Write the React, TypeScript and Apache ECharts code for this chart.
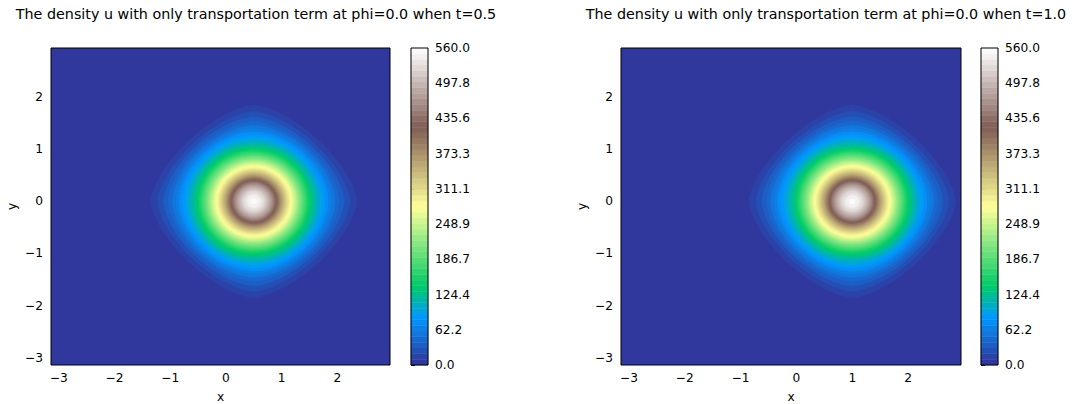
import React, { useEffect, useRef } from "react";
import * as echarts from "echarts";

// ---- data ----
const plotTitles = [
  "The density u with only transportation term at phi=0.0 when t=0.5",
  "The density u with only transportation term at phi=0.0 when t=1.0",
];
const centerX = [0.5, 1.0];
const centerY = [0, 0];
const xTicks = [-3, -2, -1, 0, 1, 2];
const yTicks = [-3, -2, -1, 0, 1, 2];
const cbTicks = [0, 62.22, 124.44, 186.67, 248.89, 311.11, 373.33, 435.56, 497.78, 560];
const levels = [
  0, 10, 20, 30, 40, 50, 60, 70, 80, 90, 100, 110, 120, 130, 140, 150, 160, 170, 180, 190,
  200, 210, 220, 230, 240, 250, 260, 270, 280, 290, 300, 310, 320, 330, 340, 350, 360, 370,
  380, 390, 400, 410, 420, 430, 440, 450, 460, 470, 480, 490, 500, 510, 520, 530, 540, 550, 560,
];
// radial profile of u around the centre (radius in data units -> value)
const profileR = [0, 0.1, 0.2, 0.3, 0.4, 0.5, 0.6, 0.7, 0.8, 0.9, 1.0, 1.1, 1.2, 1.3, 1.4, 1.5, 1.6, 1.7, 1.8, 1.9];
const profileU = [556, 545, 518, 476, 420, 360, 308, 264, 220, 178, 140, 115, 94, 76, 59, 44, 32, 22, 14, 6];
// contour shape exponent (2 = circle, lower = diamond-like)
const profileP = [2, 2, 2, 2, 2, 2, 2, 2, 2, 2, 2, 1.95, 1.9, 1.82, 1.75, 1.68, 1.6, 1.55, 1.5, 1.5];

const X_MIN = -Math.PI;
const X_MAX = Math.PI - (2 * Math.PI) / 32;
const VMAX = 560;

// terrain colormap anchors
const cmapPos = [0, 0.15, 0.25, 0.5, 0.75, 1];
const cmapRGB = [
  [0.2, 0.2, 0.6],
  [0.0, 0.6, 1.0],
  [0.0, 0.8, 0.4],
  [1.0, 1.0, 0.6],
  [0.5, 0.36, 0.33],
  [1.0, 1.0, 1.0],
];

function terrain(t: number): string {
  const idx = Math.max(0, Math.min(255, Math.floor(t * 256)));
  const x = idx / 255;
  let j = 0;
  while (j < cmapPos.length - 2 && x > cmapPos[j + 1]) j++;
  const f = (x - cmapPos[j]) / (cmapPos[j + 1] - cmapPos[j]);
  const c = cmapRGB[j].map((v, k) => Math.round((v + (cmapRGB[j + 1][k] - v) * f) * 255));
  return `rgb(${c[0]},${c[1]},${c[2]})`;
}

function radiusAt(level: number): number {
  for (let j = 0; j < profileU.length - 1; j++) {
    if (profileU[j] >= level && level > profileU[j + 1]) {
      const f = (profileU[j] - level) / (profileU[j] - profileU[j + 1]);
      return profileR[j] + f * (profileR[j + 1] - profileR[j]);
    }
  }
  return 0;
}
function shapeAt(r: number): number {
  for (let j = 0; j < profileR.length - 1; j++) {
    if (r >= profileR[j] && r <= profileR[j + 1]) {
      const f = (r - profileR[j]) / (profileR[j + 1] - profileR[j]);
      return profileP[j] + f * (profileP[j + 1] - profileP[j]);
    }
  }
  return 2;
}

const FONT = "DejaVu Sans";
const TICK_FS = 12.2;
const TITLE_FS = 14.3;
const mainGrids = [
  { left: 51, top: 48, width: 339, height: 317 },
  { left: 621, top: 48, width: 340, height: 317 },
];
const cbGrids = [
  { left: 411, top: 48, width: 17, height: 317 },
  { left: 981, top: 48, width: 17, height: 317 },
];
const titleCenters = [256, 826];

const fmtMinus = (v: number) => (v < 0 ? "\u2212" + Math.abs(v) : String(v));

export default function App() {
  const ref = useRef<HTMLDivElement>(null);
  useEffect(() => {
    if (!ref.current) return;
    const chart = echarts.init(ref.current, undefined, { renderer: "svg" });
    const grids: any[] = [];
    const xAxes: any[] = [];
    const yAxes: any[] = [];
    const series: any[] = [];
    const graphics: any[] = [];

    for (let p = 0; p < 2; p++) {
      const mg = mainGrids[p];
      const cg = cbGrids[p];
      grids.push({ ...mg, containLabel: false, outerBoundsMode: "none" });
      grids.push({ ...cg, containLabel: false, outerBoundsMode: "none" });
      const gi = p * 2;
      xAxes.push({
        gridIndex: gi,
        type: "value",
        min: X_MIN,
        max: X_MAX,
        name: "x",
        nameLocation: "middle",
        nameGap: 26,
        nameTextStyle: { fontFamily: FONT, fontSize: TICK_FS, color: "#000" },
        axisLine: { show: false },
        splitLine: { show: false },
        axisTick: { show: true, length: 4, lineStyle: { color: "#000", width: 1 }, customValues: xTicks },
        axisLabel: { color: "#000", fontFamily: FONT, fontSize: TICK_FS, margin: 7, customValues: xTicks, formatter: fmtMinus },
      });
      yAxes.push({
        gridIndex: gi,
        type: "value",
        min: X_MIN,
        max: X_MAX,
        name: "y",
        nameLocation: "middle",
        nameGap: 33,
        nameTextStyle: { fontFamily: FONT, fontSize: TICK_FS, color: "#000" },
        axisLine: { show: false },
        splitLine: { show: false },
        axisTick: { show: true, length: 4, lineStyle: { color: "#000", width: 1 }, customValues: yTicks },
        axisLabel: { color: "#000", fontFamily: FONT, fontSize: TICK_FS, margin: 8, customValues: yTicks, formatter: fmtMinus },
      });
      xAxes.push({ gridIndex: gi + 1, type: "value", min: 0, max: 1, show: false });
      yAxes.push({
        gridIndex: gi + 1,
        type: "value",
        position: "right",
        min: 0,
        max: VMAX,
        axisLine: { show: false },
        splitLine: { show: false },
        axisTick: { show: true, length: 4, lineStyle: { color: "#000", width: 1 }, customValues: cbTicks },
        axisLabel: {
          color: "#000",
          fontFamily: FONT,
          fontSize: TICK_FS,
          margin: 7,
          customValues: cbTicks,
          formatter: (v: number) => v.toFixed(1),
        },
      });

      const bandData = levels.slice(0, -1).map((lo, i) => [centerX[p], centerY[p], lo, levels[i + 1]]);
      series.push({
        type: "custom",
        xAxisIndex: gi,
        yAxisIndex: gi,
        clip: true,
        silent: true,
        encode: { x: 0, y: 1 },
        data: bandData,
        renderItem: (params: any, api: any) => {
          const cx = api.value(0);
          const cy = api.value(1);
          const lo = api.value(2);
          const hi = api.value(3);
          const color = terrain((lo + hi) / 2 / VMAX);
          if (lo <= 0) {
            const cs = params.coordSys;
            return { type: "rect", shape: { x: cs.x, y: cs.y, width: cs.width, height: cs.height }, style: { fill: color } };
          }
          const r = radiusAt(lo);
          if (r <= 0) return null;
          const pw = shapeAt(r);
          const pts: number[][] = [];
          const N = 180;
          for (let k = 0; k < N; k++) {
            const th = (2 * Math.PI * k) / N;
            const c = Math.cos(th);
            const s = Math.sin(th);
            const dx = r * Math.sign(c) * Math.pow(Math.abs(c), 2 / pw);
            const dy = r * Math.sign(s) * Math.pow(Math.abs(s), 2 / pw);
            pts.push(api.coord([cx + dx, cy + dy]));
          }
          return { type: "polygon", shape: { points: pts }, style: { fill: color, stroke: color, lineWidth: 0.6 } };
        },
      });
      const cbData = levels.slice(0, -1).map((lo, i) => [0, lo, levels[i + 1]]);
      series.push({
        type: "custom",
        xAxisIndex: gi + 1,
        yAxisIndex: gi + 1,
        silent: true,
        encode: { x: 0, y: 1 },
        data: cbData,
        renderItem: (params: any, api: any) => {
          const lo = api.value(1);
          const hi = api.value(2);
          const a = api.coord([0, hi]);
          const b = api.coord([1, lo]);
          const color = terrain((lo + hi) / 2 / VMAX);
          return {
            type: "rect",
            shape: { x: a[0], y: a[1], width: b[0] - a[0], height: b[1] - a[1] },
            style: { fill: color, stroke: color, lineWidth: 0.5 },
          };
        },
      });
      graphics.push({
        type: "text",
        z: 100,
        x: titleCenters[p],
        y: 14,
        style: {
          text: plotTitles[p],
          fontFamily: FONT,
          fontSize: TITLE_FS,
          fill: "#000",
          align: "center",
          verticalAlign: "middle",
        },
        silent: true,
      });
      graphics.push({
        type: "rect",
        z: 100,
        shape: { x: mg.left, y: mg.top, width: mg.width, height: mg.height },
        style: { fill: "none", stroke: "#000", lineWidth: 1 },
        silent: true,
      });
      graphics.push({
        type: "rect",
        z: 100,
        shape: { x: cg.left, y: cg.top, width: cg.width, height: cg.height },
        style: { fill: "none", stroke: "#000", lineWidth: 1 },
        silent: true,
      });
    }

    chart.setOption({
      animation: false,
      backgroundColor: "#fff",
      grid: grids,
      xAxis: xAxes,
      yAxis: yAxes,
      series,
      graphic: graphics,
    });
    return () => chart.dispose();
  }, []);
  return <div ref={ref} style={{ position: "fixed", left: 0, top: 0, width: 1076, height: 404 }} />;
}
